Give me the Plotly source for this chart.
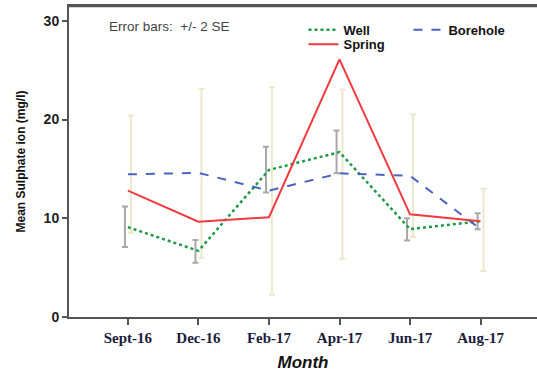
import plotly.graph_objects as go

months = ["Sept-16", "Dec-16", "Feb-17", "Apr-17", "Jun-17", "Aug-17"]
well = [9.1, 6.7, 14.9, 16.7, 8.9, 9.7]
borehole = [14.45, 14.6, 12.8, 14.55, 14.3, 8.9]
spring = [12.8, 9.65, 10.1, 26.1, 10.4, 9.7]

# error bar limits (+/- 2 SE)
well_lo = [7.1, 5.5, 12.6, 14.55, 7.75, 8.9]
well_hi = [11.2, 7.8, 17.25, 18.9, 10.0, 10.5]
bore_lo = [8.5, 6.0, 2.25, 5.9, 8.1, 4.65]
bore_hi = [20.4, 23.1, 23.3, 23.05, 20.5, 13.0]

xi = list(range(len(months)))
off = 0.042

fig = go.Figure()

# error bars (drawn first, behind lines)
fig.add_trace(go.Scatter(
    x=[i + off for i in xi], y=borehole, mode="markers",
    marker=dict(size=0.1, color="rgba(0,0,0,0)"), showlegend=False, hoverinfo="skip",
    error_y=dict(type="data", symmetric=False,
                 array=[h - m for h, m in zip(bore_hi, borehole)],
                 arrayminus=[m - l for m, l in zip(borehole, bore_lo)],
                 color="#ece8cc", thickness=2, width=3)))
fig.add_trace(go.Scatter(
    x=[i - off for i in xi], y=well, mode="markers",
    marker=dict(size=0.1, color="rgba(0,0,0,0)"), showlegend=False, hoverinfo="skip",
    error_y=dict(type="data", symmetric=False,
                 array=[h - m for h, m in zip(well_hi, well)],
                 arrayminus=[m - l for m, l in zip(well, well_lo)],
                 color="#a8a8a8", thickness=2, width=3)))

fig.add_trace(go.Scatter(x=xi, y=well, mode="lines", name="Well",
                         line=dict(color="#1e9a45", width=2.5, dash="dot"), legend="legend"))
fig.add_trace(go.Scatter(x=xi, y=borehole, mode="lines", name="Borehole",
                         line=dict(color="#4a62c4", width=2, dash="dash"), legend="legend"))
fig.add_trace(go.Scatter(x=xi, y=spring, mode="lines", name="Spring",
                         line=dict(color="#f03a40", width=2), legend="legend2"))

fig.update_layout(
    width=537, height=374,
    margin=dict(l=69, r=0, t=6, b=57),
    paper_bgcolor="white", plot_bgcolor="white",
    font=dict(family="Liberation Sans, Arial, sans-serif", color="#222222"),
    xaxis=dict(range=[-0.835, 5.8], tickmode="array", tickvals=xi, ticktext=months,
               automargin=False,
               showgrid=False, zeroline=False, showline=True, linecolor="#555555",
               linewidth=2, mirror=True, ticks="outside", ticklen=6, tickwidth=2,
               tickcolor="#555555",
               tickfont=dict(family="Liberation Serif, Times New Roman, serif",
                             size=15, color="#1c1c3c", weight="bold"),
               title=dict(text="<b><i>Month</i></b>", font=dict(size=17, color="#111111"),
                          standoff=11)),
    yaxis=dict(range=[0, 31.5], tickvals=[0, 10, 20, 30], showgrid=False, zeroline=False,
               automargin=False,
               showline=True, linecolor="#555555", linewidth=2, ticks="outside",
               ticklen=5, tickwidth=1.5, tickcolor="#555555",
               tickfont=dict(size=14, color="#222222", weight="bold"),
               title=dict(text="<b>Mean Sulphate ion (mg/l)</b>",
                          font=dict(size=12, color="#111111"), standoff=15)),
    legend=dict(orientation="h", x=0.501, y=0.972, xanchor="left", yanchor="top",
                bgcolor="rgba(0,0,0,0)", entrywidth=60, entrywidthmode="pixels",
                font=dict(size=13, color="#111111", weight="bold"),
                itemwidth=30, tracegroupgap=0),
    legend2=dict(orientation="h", x=0.501, y=0.925, xanchor="left", yanchor="top",
                 bgcolor="rgba(0,0,0,0)",
                 font=dict(size=13, color="#111111", weight="bold"), itemwidth=30),
    shapes=[dict(type="line", xref="paper", yref="paper", x0=0, x1=1, y0=1, y1=1,
                 layer="above", line=dict(color="#555555", width=2.5))],
    annotations=[dict(text="Error bars:&nbsp; +/- 2 SE", xref="paper", yref="paper",
                      x=(107 - 69) / 468, y=1 - (27 - 6) / 311, xanchor="left",
                      yanchor="middle", showarrow=False,
                      font=dict(size=13.5, color="#444444"))],
)

fig.write_html("out.html", config={"displayModeBar": False},
               post_script="document.body.style.margin='0';")
